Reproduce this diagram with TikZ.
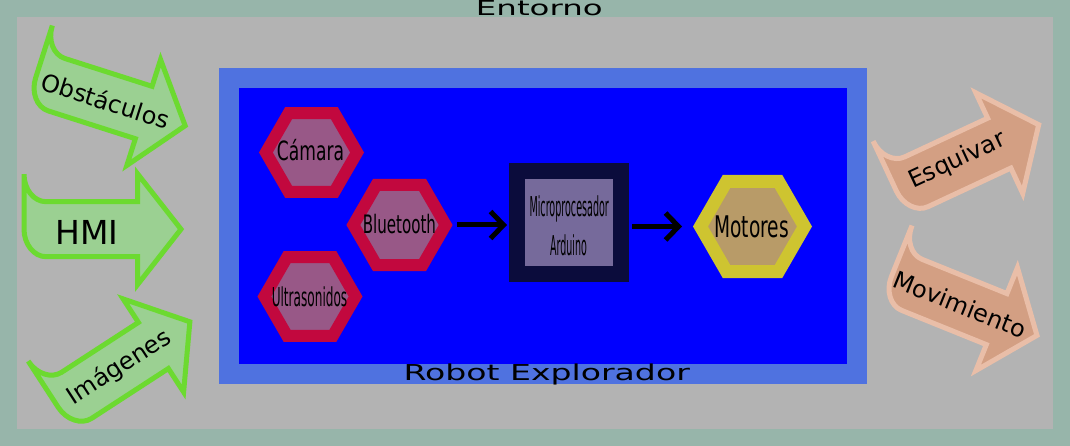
\documentclass[tikz,border=0pt]{standalone}
\usepackage{fontspec}
\setmainfont{DejaVu Sans}
\usetikzlibrary{shapes.geometric, arrows.meta}
\definecolor{bgout}{RGB}{151,181,170}
\definecolor{envgray}{RGB}{179,179,179}
\definecolor{robotlt}{RGB}{79,114,224}
\definecolor{robotbl}{RGB}{0,0,255}
\definecolor{hexr}{RGB}{194,8,62}
\definecolor{hexp}{RGB}{152,88,135}
\definecolor{hexy}{RGB}{206,196,48}
\definecolor{hext}{RGB}{184,155,104}
\definecolor{navy}{RGB}{11,12,60}
\definecolor{lav}{RGB}{118,106,155}
\definecolor{gfill}{RGB}{155,208,146}
\definecolor{gstroke}{RGB}{108,218,48}
\definecolor{ofill}{RGB}{211,159,131}
\definecolor{ostroke}{RGB}{233,190,168}
\tikzset{bent/.pic={\path[pic actions] (0,-55) .. controls (0,-39.8) and (9.9,-27.5) .. (22,-27.5) -- (113.5,-27.5) -- (113.5,-55.5) -- (157,0) -- (113.5,55.5) -- (113.5,27.5) -- (22,27.5) .. controls (10,27.5) and (0,15) .. (0,0) -- cycle;}}
\begin{document}
\begin{tikzpicture}[x=1pt,y=-1pt,
  hexbase/.style={regular polygon, regular polygon sides=6, inner sep=0pt, outer sep=0pt},
  hexred/.style={hexbase, draw=hexr, fill=hexp, line width=12pt, minimum size=91.2pt},
  hexyel/.style={hexbase, draw=hexy, fill=hext, line width=13pt, minimum size=104pt},
  txt/.style={anchor=base, inner sep=0pt, outer sep=0pt, text=black},
  conn/.style={draw=black, line width=5pt, -{Straight Barb[length=13pt,width=27pt]}},
  bentgreen/.style={transform shape, draw=gstroke, fill=gfill, line width=5pt, line join=miter},
  bentorange/.style={transform shape, draw=ostroke, fill=ofill, line width=5pt, line join=miter},
  albl/.style={inner sep=0pt, transform shape, text=black, font=\fontsize{24}{28}\selectfont}
]
\useasboundingbox (0,0) rectangle (1070,446);
\fill[bgout] (0,0) rectangle (1070,446);
\node[fill=envgray, inner sep=0pt, outer sep=0pt, minimum width=1036pt, minimum height=411.5pt] (env) at (535,222.75) {};
\node[txt] (envlbl) at (539.3,16) {\scalebox{3.24}[2.06]{Entorno}};
\node[draw=robotlt, fill=robotbl, line width=20pt, inner sep=0pt, outer sep=0pt, minimum width=628pt, minimum height=296pt] (robot) at (543,226) {};
\node[txt] (robotlbl) at (546.7,380) {\scalebox{3.31}[2.19]{Robot Explorador}};
% components
\node[hexred] (cam) at (311.5,152.5) {};
\node[hexred, minimum size=92.4pt] (blue) at (399.5,225) {};
\node[hexred] (ultra) at (310,296.5) {};
\node[draw=navy, fill=lav, line width=16pt, inner sep=0pt, outer sep=0pt, minimum width=104pt, minimum height=103pt] (micro) at (569,222.5) {};
\node[hexyel] (mot) at (752.5,226.5) {};
\node[txt] (camt) at (310.5,161) {\scalebox{1.71}[2.65]{Cámara}};
\node[txt] (bluet) at (399.4,234) {\scalebox{1.51}[2.54]{Bluetooth}};
\node[txt] (ultrat) at (309.5,306) {\scalebox{1.21}[2.6]{Ultrasonidos}};
\node[txt] (microt1) at (569.2,216.7) {\scalebox{0.957}[2.74]{Microprocesador}};
\node[txt] (microt2) at (568.5,255) {\scalebox{0.95}[2.74]{Arduino}};
\node[txt] (mott) at (751.5,237.3) {\scalebox{1.86}[2.98]{Motores}};
% connectors
\draw[conn, shorten <=11.3pt, shorten >=10pt] (blue.east) -- (blue.east -| micro.west);
\draw[conn, shorten <=11pt, shorten >=18.5pt] (micro.east |- mot.west) -- (mot.west);
% input arrows
\begin{scope}[shift={(35.6,78)}, rotate=-17.7]
  \pic[bentgreen] {bent};
  \node[albl] (obs) at (73.6,0) {Obstáculos};
\end{scope}
\begin{scope}[shift={(24,229.2)}]
  \pic[bentgreen] {bent};
  \node[albl, font=\fontsize{33}{36}\selectfont] (hmi) at (63,3) {HMI};
\end{scope}
\begin{scope}[shift={(58.2,407.3)}, rotate=33]
  \pic[bentgreen] {bent};
  \node[albl] (img) at (73,0) {Imágenes};
\end{scope}
% output arrows
\begin{scope}[shift={(896.4,191.1)}, rotate=25]
  \pic[bentorange] {bent};
  \node[albl] (esq) at (68,-2) {Esquivar};
\end{scope}
\begin{scope}[shift={(891.4,276.6)}, rotate=-22]
  \pic[bentorange] {bent};
  \node[albl] (mov) at (74,0) {Movimiento};
\end{scope}
\end{tikzpicture}
\end{document}
